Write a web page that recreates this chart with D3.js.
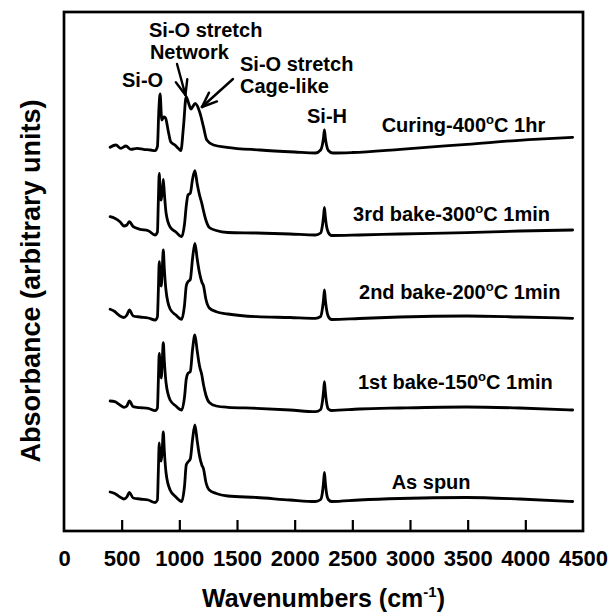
<!DOCTYPE html>
<html><head><meta charset="utf-8">
<script src="https://cdn.jsdelivr.net/npm/d3@7"></script>
<style>
body{margin:0;background:#fff}
text{font-family:"Liberation Sans",Arial,Helvetica,sans-serif;font-weight:bold;fill:#000}
</style>
</head><body>
<svg id="c" width="611" height="615"></svg>
<script>
// ---- data (absorbance, arbitrary units, traces stacked with offsets) ----
const wn = [400,440,485,520,545,567,600,660,730,790,810,818,826,834,843,852,861,870,885,920,970,1020,1045,1060,1075,1095,1115,1135,1155,1175,1195,1210,1230,1260,1320,1420,1670,1960,2180,2225,2240,2250,2258,2266,2276,2292,2320,2560,2910,3490,3950,4410];
const asSpun = [39,37.5,34,32,34,38.5,33,32,31,28.5,31,60,88,72,70,82,99,80,58,41,34,29.5,45,66,69,72,92,106,90,75,66,62,49,41,37.5,35,33.5,31,29.5,31.5,38,48,58.5,48,38,31.5,29.5,31,32.5,33.5,32,29.5];
const firstBake = [130,129.3,126,123.7,125,130,124.3,123.3,122.7,120.3,123,150,177.7,160,153,170,188.3,170,148,131,125,121,134,152,157.7,159.3,182,196,180,165,156,146,136,128.5,125,123.7,122.7,121,119.3,121.5,129,139,149.3,139,129,122,120.5,122,123,124,123,121];
const secondBake = [221.7,219.5,215,213.5,216,221,215,214,213,211,214,240,269.3,250,245,262,281,262,240,222,216,211.7,226,245,249.3,251.5,273,287.7,272,258,249,245,232,223,219.3,217,214.3,213.5,212.7,214.5,222,231,241,231,222,214.5,211.5,212.5,214,215,214,212.7];
const thirdBake = [314.3,312.7,309.3,305,306,309.3,304.3,301.7,300.3,296,299,330,357.7,335,331,340,351.7,338,318,304,299,294.3,307,325,336,337.7,352,360.3,347,336,327.7,320,311,303.5,300.5,298.5,298,297,296,298,305,314,323.5,314,305,298.5,295.5,296,297,298.3,300,301];
const wnCuring = [400,450,493,537,580,633,690,750,790,810,822,833,848,865,880,905,925,962,990,1013,1036,1059,1080,1100,1137,1180,1209,1238,1296,1412,1700,2000,2180,2225,2240,2250,2258,2266,2276,2292,2330,2500,2917,3495,4072,4410];
const curing = [383.7,386,382.7,385,381.7,382.7,381.7,381,380.3,384.3,420,437,411,414,413,399.3,389.3,386,382.7,380.3,404.3,434.3,428,422,427.5,417.7,404.3,391,386,383.7,381,379,378,381,386,393,401,393,386,380.5,378,378.5,381.7,386.7,391.7,393.7];

const seriesNames = ["As spun","1st bake-150°C 1min","2nd bake-200°C 1min","3rd bake-300°C 1min","Curing-400°C 1hr"];
const seriesX = [wn, wn, wn, wn, wnCuring];
const seriesY = [asSpun, firstBake, secondBake, thirdBake, curing];
// label anchor positions (wavenumber, absorbance)
const labelWn = [2841, 2549, 2558, 2506, 2754];
const labelAbs = [41.7, 141.7, 231.7, 310.3, 399.3];

const xTicks = [0,500,1000,1500,2000,2500,3000,3500,4000,4500];
const xTitle = "Wavenumbers (cm";
const yTitle = "Absorbance (arbitrary units)";

// peak annotations: text lines at (wavenumber, absorbance)
const peakNotes = [
  {t:"Si-O", wn:503, a:444},
  {t:"Si-O stretch", wn:737, a:494},
  {t:"Network", wn:745, a:472},
  {t:"Si-O stretch", wn:1526, a:460},
  {t:"Cage-like", wn:1526, a:438},
  {t:"Si-H", wn:2107, a:408}
];
// arrows: tail -> tip (wavenumber, absorbance)
const arrows = [
  {from:[980,467], to:[1053,436]},
  {from:[1465,452], to:[1196,424]}
];

// ---- drawing ----
const svg = d3.select("#c");
const x = d3.scaleLinear().domain([0,4500]).range([64,583]);
const y = d3.scaleLinear().domain([0,519]).range([531,12]);

const line = d3.line().x(d=>x(d[0])).y(d=>y(d[1])).curve(d3.curveMonotoneX);
seriesY.forEach((vals,i)=>{
  const pts = vals.map((v,j)=>[seriesX[i][j], v]);
  svg.append("path").attr("d", line(pts)).attr("fill","none")
    .attr("stroke","#000").attr("stroke-width",2.8).attr("stroke-linejoin","round").attr("stroke-linecap","round");
});

// frame
svg.append("rect").attr("x",x(0)).attr("y",y(519)).attr("width",x(4500)-x(0)).attr("height",y(0)-y(519))
  .attr("fill","none").attr("stroke","#000").attr("stroke-width",2.7);

// x axis
const ax = svg.append("g").attr("transform",`translate(0,${y(0)})`)
  .call(d3.axisBottom(x).tickValues(xTicks).tickSize(-11).tickPadding(19).tickFormat(d3.format("d")));
ax.select(".domain").remove();
ax.selectAll(".tick line").attr("stroke","#000").attr("stroke-width",2.2)
  .filter(d=>d===0||d===4500).remove();
ax.selectAll(".tick text").attr("font-size",22).attr("font-family",null).attr("fill","#000");

// axis titles
const xt = svg.append("text").attr("x",(x(0)+x(4500))/2).attr("y",607).attr("text-anchor","middle").attr("font-size",25);
xt.append("tspan").text(xTitle);
xt.append("tspan").attr("font-size",15).attr("dy",-10).text("-1");
xt.append("tspan").attr("dy",10).text(")");

svg.append("text").attr("transform","translate(40,281) rotate(-90)").attr("text-anchor","middle")
  .attr("font-size",27).text(yTitle);

// series labels with superscript "o"
seriesNames.forEach((name,i)=>{
  const t = svg.append("text").attr("x",x(labelWn[i])).attr("y",y(labelAbs[i])).attr("font-size",20);
  const parts = name.split("°");
  t.append("tspan").text(parts[0]);
  if(parts.length>1){
    t.append("tspan").attr("font-size",13).attr("dy",-8).text("o");
    t.append("tspan").attr("dy",8).text(parts[1]);
  }
});

// peak notes
peakNotes.forEach(n=>{
  svg.append("text").attr("x",x(n.wn)).attr("y",y(n.a)).attr("font-size",20).text(n.t);
});

// arrows
arrows.forEach(a=>{
  const x1=x(a.from[0]), y1=y(a.from[1]), x2=x(a.to[0]), y2=y(a.to[1]);
  const ang = Math.atan2(y1-y2, x1-x2);
  const L=16, spread=0.38;
  const g = svg.append("g").attr("stroke","#000").attr("stroke-width",2.4).attr("stroke-linecap","round");
  g.append("line").attr("x1",x1).attr("y1",y1).attr("x2",x2).attr("y2",y2);
  [-spread,spread].forEach(s=>{
    g.append("line").attr("x1",x2).attr("y1",y2)
      .attr("x2",x2+L*Math.cos(ang+s)).attr("y2",y2+L*Math.sin(ang+s));
  });
});
</script>
</body></html>
